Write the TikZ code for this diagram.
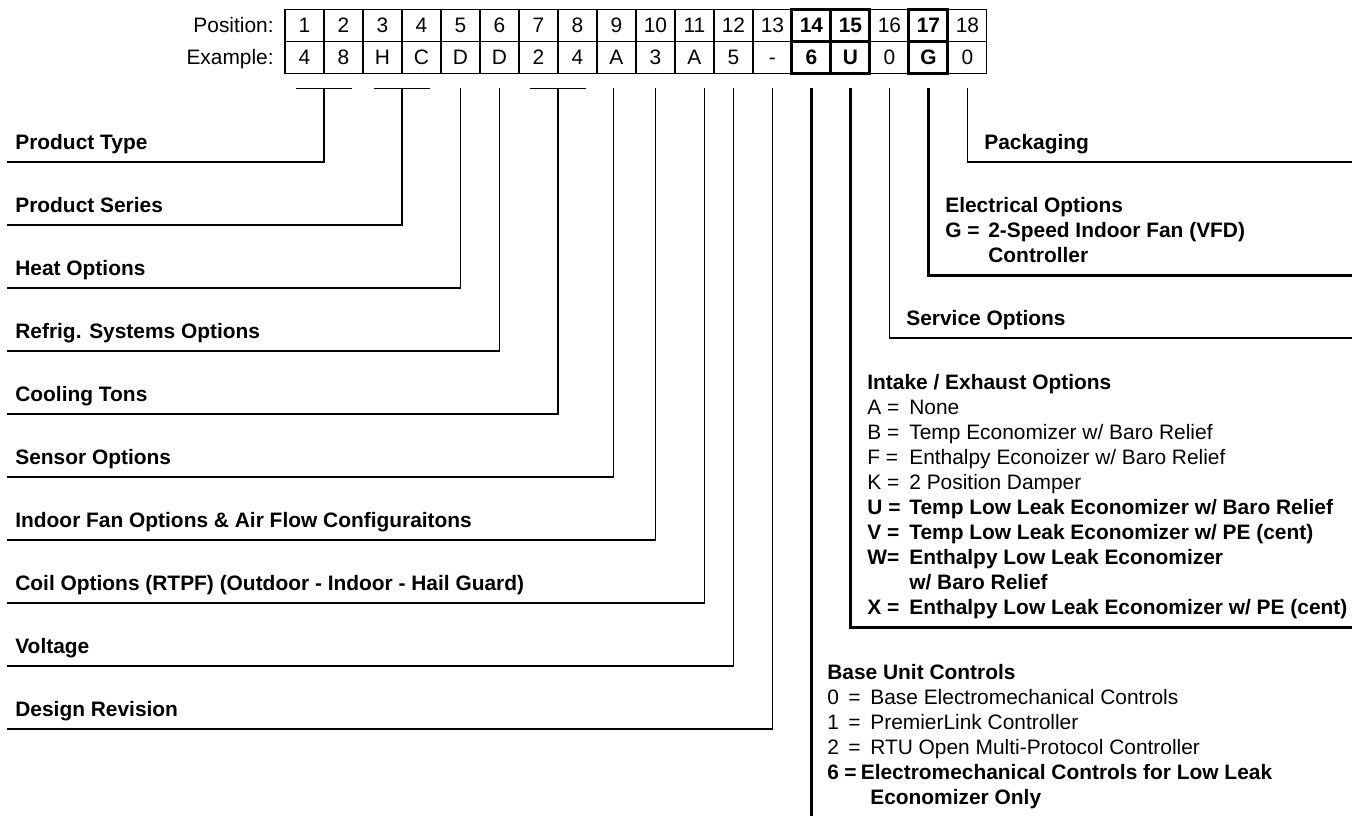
\documentclass[tikz,border=0pt]{standalone}
\usepackage{fontspec}
\setmainfont{Liberation Sans}
\usetikzlibrary{positioning}
\newcommand{\codefont}{\fontsize{11.9}{14.23}\selectfont}
\tikzset{
  cell/.style={draw, line width=0.7pt, minimum width=0.78cm, minimum height=0.64cm, inner sep=0pt, outer sep=0pt, text height=0.31cm, text depth=0.03cm, font=\codefont},
  boldcell/.style={cell, line width=1.7pt, font=\codefont\bfseries},
  rowlabel/.style={inner sep=0pt, text height=0.31cm, text depth=0.03cm, font=\codefont},
  item/.style={anchor=base west, inner sep=0pt, font=\codefont\bfseries},
  block/.style={anchor=base west, inner sep=0pt, font=\codefont},
  leader/.style={line width=0.7pt},
  heavy/.style={line width=1.7pt}
}

\begin{document}
\begin{tikzpicture}[x=0.02cm, y=-0.02cm, node distance=0.78cm]
\useasboundingbox (0,0) rectangle (1362,816);
\node (pos1) [cell] at (304.5,25.5) {1};
\node (pos2) [cell, right of = pos1] {2};
\node (pos3) [cell, right of = pos2] {3};
\node (pos4) [cell, right of = pos3] {4};
\node (pos5) [cell, right of = pos4] {5};
\node (pos6) [cell, right of = pos5] {6};
\node (pos7) [cell, right of = pos6] {7};
\node (pos8) [cell, right of = pos7] {8};
\node (pos9) [cell, right of = pos8] {9};
\node (pos10) [cell, right of = pos9] {10};
\node (pos11) [cell, right of = pos10] {11};
\node (pos12) [cell, right of = pos11] {12};
\node (pos13) [cell, right of = pos12] {13};
\node (pos14) [boldcell, right of = pos13] {14};
\node (pos15) [boldcell, right of = pos14] {15};
\node (pos16) [cell, right of = pos15] {16};
\node (pos17) [boldcell, right of = pos16] {17};
\node (pos18) [cell, right of = pos17] {18};
\node (ex1) [cell, node distance=0.64cm, below of = pos1] {4};
\node (ex2) [cell, right of = ex1] {8};
\node (ex3) [cell, right of = ex2] {H};
\node (ex4) [cell, right of = ex3] {C};
\node (ex5) [cell, right of = ex4] {D};
\node (ex6) [cell, right of = ex5] {D};
\node (ex7) [cell, right of = ex6] {2};
\node (ex8) [cell, right of = ex7] {4};
\node (ex9) [cell, right of = ex8] {A};
\node (ex10) [cell, right of = ex9] {3};
\node (ex11) [cell, right of = ex10] {A};
\node (ex12) [cell, right of = ex11] {5};
\node (ex13) [cell, right of = ex12] {-};
\node (ex14) [boldcell, right of = ex13] {6};
\node (ex15) [boldcell, right of = ex14] {U};
\node (ex16) [cell, right of = ex15] {0};
\node (ex17) [boldcell, right of = ex16] {G};
\node (ex18) [cell, right of = ex17] {0};
\node (position) [rowlabel, left=0.22cm of pos1] {Position:};
\node (example) [rowlabel, left=0.22cm of ex1] {Example:};

\node (type) [item] at (15,149) {Product Type};
\node (series) [item] at (15,212) {Product Series};
\node (heat) [item] at (15,275) {Heat Options};
\node (refrig) [item] at (15,338) {Refrig. Systems Options};
\node (tons) [item] at (15,401) {Cooling Tons};
\node (sensor) [item] at (15,464) {Sensor Options};
\node (fan) [item] at (15,527) {Indoor Fan Options \& Air Flow Configuraitons};
\node (coil) [item] at (15,590) {Coil Options (RTPF) (Outdoor - Indoor - Hail Guard)};
\node (voltage) [item] at (15,653) {Voltage};
\node (revision) [item] at (15,716) {Design Revision};
\coordinate (typeend) at (7,162);
\coordinate (seriesend) at (7,225);
\coordinate (heatend) at (7,288);
\coordinate (refrigend) at (7,351);
\coordinate (tonsend) at (7,414);
\coordinate (sensorend) at (7,477);
\coordinate (fanend) at (7,540);
\coordinate (coilend) at (7,603);
\coordinate (voltageend) at (7,666);
\coordinate (revisionend) at (7,729);
\draw[leader] ([shift={(-28,15)}]ex1.south east) -- ([shift={(28,15)}]ex1.south east);
\draw[leader] ([shift={(-28,15)}]ex3.south east) -- ([shift={(28,15)}]ex3.south east);
\draw[leader] ([shift={(-28,15)}]ex7.south east) -- ([shift={(28,15)}]ex7.south east);
\draw[leader] ([shift={(0,15)}]ex1.south east) |- (typeend);
\draw[leader] ([shift={(0,15)}]ex3.south east) |- (seriesend);
\draw[leader] ([shift={(0,15)}]ex5.south) |- (heatend);
\draw[leader] ([shift={(0,15)}]ex6.south) |- (refrigend);
\draw[leader] ([shift={(0,15)}]ex7.south east) |- (tonsend);
\draw[leader] ([shift={(-3,15)}]ex9.south) |- (sensorend);
\draw[leader] ([shift={(0,15)}]ex10.south) |- (fanend);
\draw[leader] ([shift={(10,15)}]ex11.south) |- (coilend);
\draw[leader] ([shift={(0,15)}]ex12.south) |- (voltageend);
\draw[leader] ([shift={(0,15)}]ex13.south) |- (revisionend);

\node (packaging) [item] at (984,149) {Packaging};
\node (electrical) [block] at (945,212) {\bfseries\begin{tabular}[t]{@{}p{0.86cm}@{}l@{}}
\multicolumn{2}{@{}l@{}}{Electrical Options}\\
G = & 2-Speed Indoor Fan (VFD)\\
 & Controller
\end{tabular}};
\node (service) [item] at (906,325) {Service Options};
\node (intake) [block] at (867,389) {\begin{tabular}[t]{@{}p{0.84cm}@{}l@{}}
\multicolumn{2}{@{}l@{}}{\bfseries Intake / Exhaust Options}\\
A = & None\\
B = & Temp Economizer w/ Baro Relief\\
F = & Enthalpy Econoizer w/ Baro Relief\\
K = & 2 Position Damper\\
\bfseries U = & \bfseries Temp Low Leak Economizer w/ Baro Relief\\
\bfseries V = & \bfseries Temp Low Leak Economizer w/ PE (cent)\\
\bfseries W= & \bfseries Enthalpy Low Leak Economizer\\
 & \bfseries w/ Baro Relief\\
\bfseries X = & \bfseries Enthalpy Low Leak Economizer w/ PE (cent)
\end{tabular}};
\node (base) [block] at (827,679) {\begin{tabular}[t]{@{}p{0.86cm}@{}l@{}}
\multicolumn{2}{@{}l@{}}{\bfseries Base Unit Controls}\\
0 \,= & Base Electromechanical Controls\\
1 \,= & PremierLink Controller\\
2 \,= & RTU Open Multi-Protocol Controller\\
\multicolumn{2}{@{}l@{}}{\bfseries 6\hspace{3pt}=\hspace{2.5pt}Electromechanical Controls for Low Leak}\\
 & \bfseries Economizer Only
\end{tabular}};
\coordinate (packend) at (1352,162);
\coordinate (elecend) at (1352,275);
\coordinate (serviceend) at (1352,338);
\coordinate (intakeend) at (1352,627);
\coordinate (bottom) at (0,816);
\draw[leader] ([shift={(0,15)}]ex18.south) |- (packend);
\draw[heavy] ([shift={(0,15)}]ex17.south) |- (elecend);
\draw[leader] ([shift={(0,15)}]ex16.south) |- (serviceend);
\draw[heavy] ([shift={(0,15)}]ex15.south) |- (intakeend);
\draw[heavy] ([shift={(0,15)}]ex14.south) -- (ex14 |- bottom);
\end{tikzpicture}
\end{document}
